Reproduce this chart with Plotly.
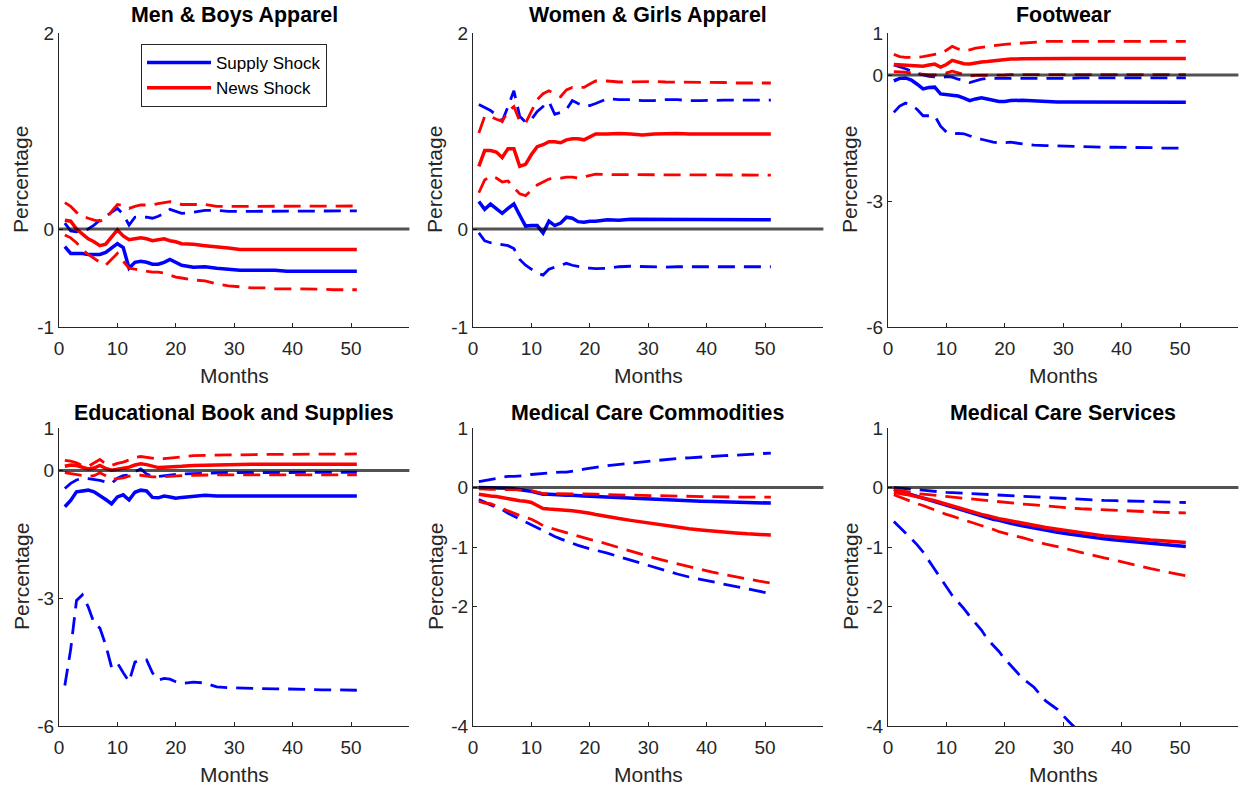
import plotly.graph_objects as go

# ---------------- data ----------------
MONTHS = [1, 2, 3, 4, 5, 6, 7, 8, 9, 10, 11, 12, 13, 14, 15, 16, 17, 18, 19, 20, 21,
          23, 25, 27, 29, 31, 33, 35, 37, 39, 41, 43, 45, 47, 49, 51]

# Men & Boys Apparel
MB_SUPPLY = [-0.18, -0.25, -0.25, -0.25, -0.26, -0.26, -0.26, -0.24, -0.20, -0.15, -0.19, -0.40, -0.34, -0.33, -0.34, -0.36, -0.36, -0.34, -0.31, -0.34, -0.37,
             -0.39, -0.385, -0.40, -0.41, -0.42, -0.42, -0.42, -0.42, -0.43, -0.43, -0.43, -0.43, -0.43, -0.43, -0.43]
MB_SUPPLY_HI = [0.06, -0.02, -0.03, -0.02, 0.00, 0.04, 0.09, 0.13, 0.17, 0.21, 0.15, 0.04, 0.12, 0.125, 0.12, 0.11, 0.13, 0.16, 0.20, 0.18, 0.16,
                0.17, 0.19, 0.19, 0.18, 0.18, 0.18, 0.185, 0.185, 0.18, 0.18, 0.185, 0.185, 0.185, 0.185, 0.185]
MB_NEWS = [0.09, 0.08, 0.00, -0.05, -0.10, -0.13, -0.17, -0.155, -0.08, -0.01, -0.07, -0.11, -0.10, -0.09, -0.10, -0.12, -0.11, -0.10, -0.12, -0.13, -0.15,
           -0.155, -0.17, -0.18, -0.195, -0.21, -0.21, -0.21, -0.21, -0.215, -0.215, -0.21, -0.21, -0.21, -0.21, -0.21]
MB_NEWS_HI = [0.27, 0.23, 0.17, 0.13, 0.11, 0.09, 0.08, 0.10, 0.18, 0.25, 0.24, 0.21, 0.23, 0.245, 0.245, 0.245, 0.26, 0.27, 0.28, 0.27, 0.25,
              0.25, 0.25, 0.23, 0.23, 0.23, 0.23, 0.235, 0.235, 0.235, 0.235, 0.235, 0.235, 0.235, 0.235, 0.235]
MB_NEWS_LO = [-0.06, -0.09, -0.14, -0.21, -0.26, -0.30, -0.34, -0.37, -0.31, -0.25, -0.33, -0.40, -0.41, -0.42, -0.43, -0.44, -0.44, -0.45, -0.47, -0.49, -0.50,
              -0.52, -0.53, -0.56, -0.58, -0.59, -0.60, -0.60, -0.61, -0.61, -0.61, -0.615, -0.615, -0.62, -0.62, -0.62]

# Women & Girls Apparel
WG_SUPPLY = [0.28, 0.20, 0.255, 0.21, 0.16, 0.21, 0.255, 0.14, 0.03, 0.035, 0.035, -0.04, 0.08, 0.035, 0.06, 0.12, 0.11, 0.075, 0.07, 0.08, 0.08,
             0.095, 0.09, 0.10, 0.10, 0.095, 0.10, 0.10, 0.10, 0.095, 0.095, 0.095, 0.095, 0.095, 0.095, 0.095]
WG_SUPPLY_HI = [1.27, 1.24, 1.21, 1.16, 1.10, 1.25, 1.41, 1.15, 1.09, 1.12, 1.20, 1.25, 1.30, 1.17, 1.19, 1.22, 1.31, 1.28, 1.255, 1.26, 1.28,
                1.33, 1.32, 1.32, 1.31, 1.31, 1.32, 1.32, 1.31, 1.31, 1.315, 1.315, 1.315, 1.315, 1.315, 1.315]
WG_SUPPLY_LO = [-0.04, -0.12, -0.14, -0.15, -0.16, -0.17, -0.20, -0.31, -0.37, -0.41, -0.45, -0.47, -0.41, -0.39, -0.37, -0.35, -0.37, -0.385, -0.395, -0.40, -0.405,
                -0.40, -0.385, -0.38, -0.385, -0.39, -0.39, -0.385, -0.385, -0.385, -0.39, -0.39, -0.385, -0.385, -0.385, -0.385]
WG_NEWS = [0.64, 0.80, 0.80, 0.785, 0.73, 0.82, 0.82, 0.64, 0.66, 0.76, 0.84, 0.86, 0.89, 0.89, 0.88, 0.91, 0.92, 0.92, 0.91, 0.94, 0.97,
           0.97, 0.975, 0.97, 0.96, 0.97, 0.975, 0.975, 0.97, 0.97, 0.97, 0.97, 0.97, 0.97, 0.97, 0.97]
WG_NEWS_HI = [0.98, 1.15, 1.15, 1.12, 1.10, 1.20, 1.25, 1.10, 1.08, 1.20, 1.32, 1.38, 1.41, 1.38, 1.35, 1.42, 1.445, 1.445, 1.445, 1.48, 1.51,
              1.51, 1.50, 1.50, 1.505, 1.505, 1.50, 1.50, 1.50, 1.495, 1.495, 1.495, 1.49, 1.49, 1.49, 1.49]
WG_NEWS_LO = [0.37, 0.50, 0.54, 0.52, 0.48, 0.49, 0.42, 0.36, 0.34, 0.40, 0.45, 0.48, 0.51, 0.52, 0.52, 0.53, 0.53, 0.52, 0.535, 0.55, 0.56,
              0.555, 0.555, 0.555, 0.55, 0.555, 0.555, 0.555, 0.555, 0.55, 0.55, 0.55, 0.55, 0.55, 0.55, 0.55]

# Footwear
FW_SUPPLY = [-0.14, -0.08, -0.07, -0.12, -0.22, -0.33, -0.30, -0.29, -0.45, -0.46, -0.47, -0.50, -0.55, -0.61, -0.57, -0.54, -0.57, -0.60, -0.63, -0.63, -0.61,
             -0.60, -0.62, -0.63, -0.64, -0.64, -0.64, -0.65, -0.65, -0.65, -0.65, -0.65, -0.65, -0.65, -0.65, -0.65]
FW_SUPPLY_HI = [0.24, 0.20, 0.15, 0.09, 0.04, 0.00, -0.03, -0.05, -0.06, -0.04, -0.05, -0.10, -0.13, -0.18, -0.14, -0.10, -0.08, -0.08, -0.09, -0.09, -0.08,
                -0.08, -0.08, -0.08, -0.08, -0.08, -0.07, -0.07, -0.07, -0.07, -0.07, -0.07, -0.07, -0.07, -0.07, -0.07]
FW_SUPPLY_LO = [-0.89, -0.74, -0.67, -0.72, -0.82, -0.97, -0.97, -0.97, -1.22, -1.36, -1.40, -1.39, -1.40, -1.45, -1.50, -1.53, -1.57, -1.60, -1.62, -1.61, -1.60,
                -1.64, -1.67, -1.68, -1.69, -1.70, -1.70, -1.71, -1.72, -1.72, -1.72, -1.73, -1.73, -1.74, -1.74, -1.74]
FW_NEWS = [0.25, 0.24, 0.23, 0.22, 0.22, 0.21, 0.24, 0.26, 0.19, 0.25, 0.35, 0.31, 0.27, 0.26, 0.29, 0.31, 0.32, 0.34, 0.35, 0.36, 0.38,
           0.385, 0.39, 0.40, 0.395, 0.39, 0.39, 0.39, 0.39, 0.39, 0.39, 0.39, 0.39, 0.39, 0.39, 0.39]
FW_NEWS_HI = [0.49, 0.44, 0.42, 0.42, 0.42, 0.44, 0.47, 0.49, 0.52, 0.59, 0.68, 0.62, 0.58, 0.60, 0.64, 0.66, 0.68, 0.70, 0.72, 0.73, 0.74,
              0.76, 0.78, 0.80, 0.80, 0.80, 0.80, 0.80, 0.80, 0.80, 0.80, 0.80, 0.80, 0.80, 0.80, 0.80]
FW_NEWS_LO = [0.08, 0.08, 0.07, 0.05, 0.03, 0.01, 0.00, 0.00, 0.02, 0.05, 0.09, 0.05, 0.02, -0.02, -0.01, -0.01, 0.00, 0.00, 0.00, 0.00, 0.01,
              0.01, 0.01, 0.01, 0.01, 0.01, 0.01, 0.01, 0.01, 0.01, 0.01, 0.01, 0.01, 0.01, 0.01, 0.01]

# Educational Book and Supplies
ED_SUPPLY = [-0.85, -0.70, -0.50, -0.47, -0.46, -0.50, -0.58, -0.68, -0.78, -0.62, -0.57, -0.69, -0.51, -0.46, -0.48, -0.63, -0.64, -0.60, -0.62, -0.65, -0.63,
             -0.60, -0.58, -0.60, -0.61, -0.60, -0.60, -0.60, -0.60, -0.60, -0.60, -0.60, -0.60, -0.60, -0.60, -0.60]
ED_SUPPLY_HI = [-0.42, -0.30, -0.22, -0.18, -0.19, -0.21, -0.23, -0.27, -0.30, -0.18, -0.12, -0.10, -0.03, 0.04, -0.08, -0.13, -0.14, -0.12, -0.10, -0.09, -0.08,
                -0.07, -0.06, -0.06, -0.05, -0.05, -0.05, -0.04, -0.04, -0.04, -0.04, -0.04, -0.04, -0.04, -0.04, -0.04]
ED_SUPPLY_LO = [-5.05, -4.20, -3.05, -2.92, -3.20, -3.58, -3.70, -4.10, -4.62, -4.52, -4.75, -4.96, -4.50, -4.45, -4.45, -4.75, -4.92, -4.88, -4.90, -4.96, -5.00,
                -4.97, -4.99, -5.08, -5.10, -5.11, -5.12, -5.12, -5.13, -5.13, -5.14, -5.14, -5.15, -5.15, -5.16, -5.16]
ED_NEWS = [0.10, 0.13, 0.12, 0.08, 0.04, 0.06, 0.12, 0.05, 0.01, 0.03, 0.05, 0.08, 0.13, 0.16, 0.14, 0.10, 0.07, 0.08, 0.08, 0.09, 0.10,
           0.12, 0.13, 0.13, 0.14, 0.14, 0.15, 0.15, 0.15, 0.15, 0.15, 0.15, 0.15, 0.15, 0.15, 0.15]
ED_NEWS_HI = [0.24, 0.22, 0.18, 0.12, 0.10, 0.18, 0.26, 0.16, 0.12, 0.17, 0.20, 0.25, 0.31, 0.33, 0.31, 0.28, 0.27, 0.28, 0.29, 0.30, 0.32,
              0.35, 0.36, 0.36, 0.37, 0.37, 0.38, 0.38, 0.38, 0.38, 0.38, 0.39, 0.39, 0.39, 0.39, 0.39]
ED_NEWS_LO = [-0.05, -0.07, -0.09, -0.11, -0.14, -0.12, -0.05, -0.12, -0.21, -0.19, -0.17, -0.13, -0.10, -0.11, -0.13, -0.15, -0.15, -0.14, -0.14, -0.13, -0.12,
              -0.11, -0.10, -0.10, -0.10, -0.10, -0.10, -0.10, -0.10, -0.10, -0.10, -0.10, -0.10, -0.10, -0.10, -0.10]

# Medical Care Commodities
MC_SUPPLY = [0.00, 0.00, 0.00, 0.00, -0.01, -0.01, -0.02, -0.04, -0.05, -0.06, -0.08, -0.11, -0.11, -0.12, -0.13, -0.13, -0.13, -0.13, -0.14, -0.145, -0.15,
             -0.16, -0.17, -0.18, -0.19, -0.20, -0.205, -0.21, -0.22, -0.23, -0.235, -0.24, -0.245, -0.25, -0.255, -0.26]
MC_SUPPLY_HI = [0.10, 0.12, 0.14, 0.15, 0.17, 0.19, 0.19, 0.19, 0.20, 0.22, 0.23, 0.23, 0.24, 0.25, 0.26, 0.26, 0.27, 0.29, 0.31, 0.33, 0.34,
                0.37, 0.39, 0.41, 0.44, 0.46, 0.47, 0.49, 0.50, 0.515, 0.525, 0.535, 0.545, 0.555, 0.57, 0.58]
MC_SUPPLY_LO = [-0.20, -0.25, -0.29, -0.33, -0.37, -0.43, -0.48, -0.53, -0.58, -0.63, -0.68, -0.73, -0.77, -0.82, -0.86, -0.90, -0.94, -0.97, -1.00, -1.02, -1.05,
                -1.10, -1.16, -1.22, -1.28, -1.34, -1.40, -1.45, -1.50, -1.54, -1.58, -1.62, -1.66, -1.70, -1.74, -1.78]
MC_NEWS = [-0.11, -0.13, -0.14, -0.15, -0.17, -0.19, -0.21, -0.22, -0.23, -0.25, -0.30, -0.35, -0.36, -0.365, -0.37, -0.38, -0.39, -0.40, -0.41, -0.43, -0.45,
           -0.49, -0.52, -0.55, -0.58, -0.61, -0.635, -0.66, -0.69, -0.71, -0.73, -0.745, -0.76, -0.775, -0.785, -0.795]
MC_NEWS_HI = [-0.02, -0.03, -0.03, -0.03, -0.03, -0.04, -0.04, -0.04, -0.04, -0.05, -0.08, -0.10, -0.10, -0.10, -0.10, -0.10, -0.10, -0.10, -0.105, -0.11, -0.11,
              -0.12, -0.12, -0.125, -0.13, -0.135, -0.14, -0.145, -0.15, -0.15, -0.155, -0.155, -0.16, -0.16, -0.16, -0.16]
MC_NEWS_LO = [-0.23, -0.26, -0.27, -0.31, -0.36, -0.40, -0.44, -0.47, -0.50, -0.53, -0.58, -0.64, -0.67, -0.70, -0.73, -0.76, -0.79, -0.82, -0.84, -0.87, -0.89,
              -0.95, -1.01, -1.07, -1.12, -1.18, -1.23, -1.28, -1.33, -1.38, -1.42, -1.46, -1.50, -1.54, -1.57, -1.60]

# Medical Care Services
MS_SUPPLY = [-0.03, -0.06, -0.09, -0.12, -0.15, -0.18, -0.21, -0.24, -0.27, -0.30, -0.33, -0.36, -0.39, -0.42, -0.45, -0.48, -0.50, -0.53, -0.55, -0.58, -0.60,
             -0.64, -0.68, -0.72, -0.75, -0.78, -0.81, -0.84, -0.86, -0.88, -0.90, -0.92, -0.94, -0.96, -0.97, -0.99]
MS_SUPPLY_HI = [0.00, -0.01, -0.02, -0.03, -0.04, -0.05, -0.06, -0.07, -0.075, -0.08, -0.085, -0.09, -0.095, -0.10, -0.105, -0.11, -0.12, -0.125, -0.13, -0.14, -0.145,
                -0.155, -0.165, -0.175, -0.185, -0.195, -0.20, -0.21, -0.215, -0.22, -0.225, -0.23, -0.235, -0.24, -0.245, -0.25]
MS_SUPPLY_LO = [-0.57, -0.66, -0.76, -0.86, -0.96, -1.08, -1.23, -1.37, -1.51, -1.68, -1.81, -1.92, -2.03, -2.16, -2.28, -2.39, -2.54, -2.65, -2.75, -2.88, -2.98,
                -3.20, -3.35, -3.58, -3.72, -3.93, -4.12, None, None, None, None, None, None, None, None, None]
MS_NEWS = [-0.08, -0.09, -0.11, -0.13, -0.15, -0.17, -0.20, -0.22, -0.25, -0.28, -0.31, -0.34, -0.37, -0.40, -0.42, -0.45, -0.47, -0.50, -0.52, -0.54, -0.56,
           -0.60, -0.64, -0.67, -0.70, -0.73, -0.76, -0.78, -0.81, -0.83, -0.85, -0.86, -0.88, -0.89, -0.91, -0.92]
MS_NEWS_HI = [-0.03, -0.05, -0.07, -0.08, -0.10, -0.11, -0.12, -0.13, -0.14, -0.15, -0.165, -0.175, -0.185, -0.195, -0.205, -0.215, -0.225, -0.235, -0.245, -0.25, -0.26,
              -0.275, -0.29, -0.31, -0.325, -0.34, -0.355, -0.365, -0.375, -0.385, -0.395, -0.40, -0.41, -0.415, -0.42, -0.425]
MS_NEWS_LO = [-0.12, -0.16, -0.20, -0.24, -0.27, -0.30, -0.34, -0.38, -0.42, -0.45, -0.48, -0.51, -0.55, -0.58, -0.61, -0.64, -0.67, -0.70, -0.74, -0.77, -0.79,
              -0.84, -0.90, -0.95, -0.99, -1.04, -1.08, -1.13, -1.18, -1.22, -1.27, -1.31, -1.36, -1.40, -1.44, -1.48]

TITLES = ["Men & Boys Apparel", "Women & Girls Apparel", "Footwear",
          "Educational Book and Supplies", "Medical Care Commodities", "Medical Care Services"]
X_RANGE = [0, 60]
X_TICKS = [0, 10, 20, 30, 40, 50]
Y_RANGES = [[-1, 2], [-1, 2], [-6, 1], [-6, 1], [-4, 1], [-4, 1]]
Y_TICKS = [[-1, 0, 2], [-1, 0, 2], [-6, -3, 0, 1], [-6, -3, 0, 1], [-4, -2, -1, 0, 1], [-4, -2, -1, 0, 1]]
LEGEND_NAMES = ["Supply Shock", "News Shock"]

PANEL_SERIES = [
    (MB_SUPPLY, [MB_SUPPLY_HI], MB_NEWS, [MB_NEWS_HI, MB_NEWS_LO]),
    (WG_SUPPLY, [WG_SUPPLY_HI, WG_SUPPLY_LO], WG_NEWS, [WG_NEWS_HI, WG_NEWS_LO]),
    (FW_SUPPLY, [FW_SUPPLY_HI, FW_SUPPLY_LO], FW_NEWS, [FW_NEWS_HI, FW_NEWS_LO]),
    (ED_SUPPLY, [ED_SUPPLY_HI, ED_SUPPLY_LO], ED_NEWS, [ED_NEWS_HI, ED_NEWS_LO]),
    (MC_SUPPLY, [MC_SUPPLY_HI, MC_SUPPLY_LO], MC_NEWS, [MC_NEWS_HI, MC_NEWS_LO]),
    (MS_SUPPLY, [MS_SUPPLY_HI, MS_SUPPLY_LO], MS_NEWS, [MS_NEWS_HI, MS_NEWS_LO]),
]

# ---------------- layout geometry ----------------
W, H = 1241, 787
COL_PX = [(59, 409.4), (473, 823.4), (888, 1238.4)]
ROW_PX = [(33, 327), (428, 726)]

FONT = "Liberation Sans, Arial, Helvetica, sans-serif"
AX_COLOR = "#262626"
BLUE = "#0000FF"
RED = "#FF0000"
SOLID_W = 3.5
DASH_W = 2.8
DASH = "17px,9px"

fig = go.Figure()
annotations = []
shapes = []
layout = {}

for i in range(6):
    r, c = divmod(i, 3)
    n = i + 1
    xa = "x" if n == 1 else f"x{n}"
    ya = "y" if n == 1 else f"y{n}"
    x0p, x1p = COL_PX[c]
    y0p, y1p = ROW_PX[r]
    xdom = [x0p / W, x1p / W]
    ydom = [1 - y1p / H, 1 - y0p / H]

    supply, supply_bands, news, news_bands = PANEL_SERIES[i]
    fig.add_trace(go.Scatter(x=MONTHS, y=supply, mode="lines", name=LEGEND_NAMES[0],
                             line=dict(color=BLUE, width=SOLID_W), xaxis=xa, yaxis=ya,
                             showlegend=(i == 0), hoverinfo="skip"))
    for band in supply_bands:
        fig.add_trace(go.Scatter(x=MONTHS, y=band, mode="lines", name="Supply band",
                                 line=dict(color=BLUE, width=DASH_W, dash=DASH), xaxis=xa, yaxis=ya,
                                 showlegend=False, hoverinfo="skip", connectgaps=False))
    fig.add_trace(go.Scatter(x=MONTHS, y=news, mode="lines", name=LEGEND_NAMES[1],
                             line=dict(color=RED, width=SOLID_W), xaxis=xa, yaxis=ya,
                             showlegend=(i == 0), hoverinfo="skip"))
    for band in news_bands:
        fig.add_trace(go.Scatter(x=MONTHS, y=band, mode="lines", name="News band",
                                 line=dict(color=RED, width=DASH_W, dash=DASH), xaxis=xa, yaxis=ya,
                                 showlegend=False, hoverinfo="skip"))

    # zero reference line
    shapes.append(dict(type="line", xref=f"{xa} domain", yref=ya, x0=0, x1=1, y0=0, y1=0,
                       line=dict(color="rgba(0,0,0,0.68)", width=3), layer="above"))

    axis_common = dict(showline=True, linecolor=AX_COLOR, linewidth=1, ticks="inside",
                       ticklen=4, tickwidth=1, tickcolor=AX_COLOR, showgrid=False, zeroline=False,
                       tickfont=dict(family=FONT, size=19, color=AX_COLOR), mirror=False,
                       fixedrange=True, automargin=False)
    layout["xaxis" if n == 1 else f"xaxis{n}"] = dict(
        domain=xdom, anchor=ya, range=X_RANGE, tickmode="array", tickvals=X_TICKS,
        ticktext=[str(t) for t in X_TICKS], ticklabelstandoff=4, **axis_common)
    layout["yaxis" if n == 1 else f"yaxis{n}"] = dict(
        domain=ydom, anchor=xa, range=Y_RANGES[i], tickmode="array", tickvals=Y_TICKS[i],
        ticktext=[str(t) for t in Y_TICKS[i]], **axis_common)

    cx = (x0p + x1p) / 2
    cy = (y0p + y1p) / 2
    title_y = 15 if r == 0 else 413
    annotations.append(dict(text=f"<b>{TITLES[i]}</b>", x=cx / W, y=1 - title_y / H, xref="paper",
                            yref="paper", showarrow=False, xanchor="center", yanchor="middle",
                            font=dict(family=FONT, size=21.4, color="black")))
    annotations.append(dict(text="Months", x=cx / W, y=1 - (y1p + 48) / H, xref="paper",
                            yref="paper", showarrow=False, xanchor="center", yanchor="middle",
                            font=dict(family=FONT, size=21, color=AX_COLOR)))
    annotations.append(dict(text="Percentage", x=(x0p - 38) / W, y=1 - cy / H, xref="paper",
                            yref="paper", showarrow=False, xanchor="center", yanchor="middle",
                            textangle=-90, font=dict(family=FONT, size=21, color=AX_COLOR)))

fig.update_layout(
    width=W, height=H, margin=dict(l=0, r=0, t=0, b=0, pad=0, autoexpand=False),
    paper_bgcolor="white", plot_bgcolor="white",
    font=dict(family=FONT, color=AX_COLOR),
    annotations=annotations, shapes=shapes,
    showlegend=True,
    legend=dict(x=141 / W, y=1 - 44 / H, xanchor="left", yanchor="top",
                bgcolor="white", bordercolor=AX_COLOR, borderwidth=1,
                font=dict(family=FONT, size=17, color="black"), itemwidth=64,
                tracegroupgap=0),
    **layout,
)

fig.write_html("out.html")
